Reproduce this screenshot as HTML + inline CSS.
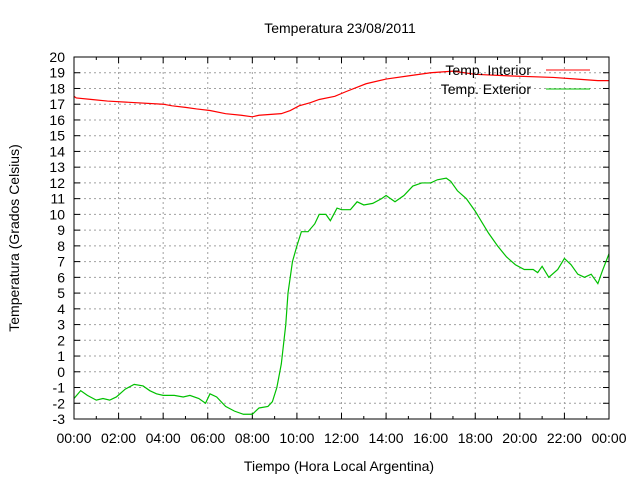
<!DOCTYPE html>
<html><head><meta charset="utf-8"><style>
body{margin:0;background:#fff;}
svg{display:block;font-family:"Liberation Sans",sans-serif;}
</style></head><body>
<svg id="chart" width="640" height="480" viewBox="0 0 640 480" xmlns="http://www.w3.org/2000/svg">
<rect width="640" height="480" fill="#fff"/>
<text x="340" y="33" font-size="14" text-anchor="middle">Temperatura 23/08/2011</text>
<text x="339" y="471" font-size="14" text-anchor="middle">Tiempo (Hora Local Argentina)</text>
<text x="0" y="0" font-size="14" text-anchor="middle" transform="translate(19,238) rotate(-90)">Temperatura (Grados Celsius)</text>
<g id="grid"></g><g id="ticks"></g><g id="series"></g>
<rect x="74" y="57" width="535" height="362" fill="none" stroke="#000" stroke-width="1"/>
<g>
<text x="531" y="75" font-size="14" text-anchor="end">Temp. Interior</text>
<line x1="546" y1="70" x2="590" y2="70" stroke="#f00" stroke-width="1"/>
<text x="531" y="94" font-size="14" text-anchor="end">Temp. Exterior</text>
<line x1="546" y1="89" x2="590" y2="89" stroke="#00c000" stroke-width="1"/>
</g>
</svg>
<script>
const xTickLabels=["00:00","02:00","04:00","06:00","08:00","10:00","12:00","14:00","16:00","18:00","20:00","22:00","00:00"];
const yTicks=[-3,-2,-1,0,1,2,3,4,5,6,7,8,9,10,11,12,13,14,15,16,17,18,19,20];
const extHours=[0,0.3,0.6,1.0,1.3,1.6,1.9,2.3,2.7,3.1,3.4,3.7,4.0,4.5,4.9,5.2,5.6,5.9,6.1,6.4,6.8,7.2,7.6,8.0,8.3,8.7,8.9,9.1,9.3,9.5,9.6,9.8,10.0,10.2,10.5,10.8,11.0,11.3,11.5,11.8,12.0,12.4,12.7,13.0,13.4,13.8,14.0,14.4,14.8,15.2,15.6,16.0,16.3,16.7,16.9,17.2,17.6,18.0,18.3,18.6,19.0,19.4,19.8,20.2,20.6,20.8,21.0,21.3,21.7,22.0,22.3,22.6,22.9,23.2,23.5,23.7,24.0];
const extTemps=[-1.7,-1.2,-1.5,-1.8,-1.7,-1.8,-1.6,-1.1,-0.8,-0.9,-1.2,-1.4,-1.5,-1.5,-1.6,-1.5,-1.7,-2.0,-1.4,-1.6,-2.2,-2.5,-2.7,-2.7,-2.3,-2.2,-1.9,-1.0,0.5,3,5,7,8,8.9,8.9,9.4,10.0,10.0,9.6,10.4,10.3,10.3,10.8,10.6,10.7,11.0,11.2,10.8,11.2,11.8,12.0,12.0,12.2,12.3,12.1,11.5,11.0,10.2,9.5,8.8,8.0,7.3,6.8,6.5,6.5,6.3,6.7,6.0,6.5,7.2,6.8,6.2,6.0,6.2,5.6,6.4,7.5];
const intHours=[0,0.1,0.8,1.5,4.0,4.4,5.0,5.5,6.1,6.8,7.5,8.0,8.3,9.3,9.7,10.1,10.6,11.0,11.7,12.2,13.1,14.0,15.0,16.0,17.0,18.0,19.5,21.5,22.5,23.5,24];
const intTemps=[17.5,17.4,17.3,17.2,17.0,16.9,16.8,16.7,16.6,16.4,16.3,16.2,16.3,16.4,16.6,16.9,17.1,17.3,17.5,17.8,18.3,18.6,18.8,19.0,19.1,18.9,18.8,18.7,18.6,18.5,18.5];
const X0=74,X1=609,Y0=419,Y1=57,YMIN=-3,YMAX=20;
const sx=h=>X0+(X1-X0)*h/24;
const sy=v=>Y0-(Y0-Y1)*(v-YMIN)/(YMAX-YMIN);
const NS="http://www.w3.org/2000/svg";
function mk(tag,attrs,parent){const e=document.createElementNS(NS,tag);for(const k in attrs)e.setAttribute(k,attrs[k]);parent.appendChild(e);return e;}
const grid=document.getElementById('grid'),ticks=document.getElementById('ticks'),series=document.getElementById('series');
yTicks.forEach(v=>{const y=sy(v);
 if(v>YMIN&&v<YMAX){const g=mk('line',{x1:X0,x2:X1,y1:y,y2:y,stroke:'#a0a0a0','stroke-dasharray':'2,3'},grid);
 
 }
 const t=mk('line',{x1:X0,x2:X0+6,y1:y,y2:y,stroke:'#000'},ticks);
 
 
 const t2=mk('line',{x1:X1-6,x2:X1,y1:y,y2:y,stroke:'#000'},ticks);
 
 
 const l=mk('text',{x:65,y:y+5,'font-size':14,'text-anchor':'end'},ticks);l.textContent=v;
 
 });
xTickLabels.forEach((s,i)=>{const x=sx(i*2);
 if(i>0&&i<12){const g=mk('line',{x1:x,x2:x,y1:Y0,y2:Y1,stroke:'#a0a0a0','stroke-dasharray':'2,3'},grid);
 
 }
 const t=mk('line',{x1:x,x2:x,y1:Y0,y2:Y0-6,stroke:'#000'},ticks);
 
 
 const t2=mk('line',{x1:x,x2:x,y1:Y1,y2:Y1+6,stroke:'#000'},ticks);
 
 
 if(i<12){const xm=sx(i*2+1);
 const m=mk('line',{x1:xm,x2:xm,y1:Y0,y2:Y0-3,stroke:'#000'},ticks);
 
 
 const m2=mk('line',{x1:xm,x2:xm,y1:Y1,y2:Y1+3,stroke:'#000'},ticks);
 
 }
 const l=mk('text',{x:x,y:443,'font-size':14,'text-anchor':'middle'},ticks);l.textContent=s;
 
 });
function line(hs,vs,color,name){const p=mk('polyline',{points:hs.map((h,i)=>sx(h)+','+sy(vs[i])).join(' '),fill:'none',stroke:color,'stroke-width':1.2},series);
 
 }
line(intHours,intTemps,'#f00','interior-temp-line');
line(extHours,extTemps,'#00c000','exterior-temp-line');
</script>
</body></html>
